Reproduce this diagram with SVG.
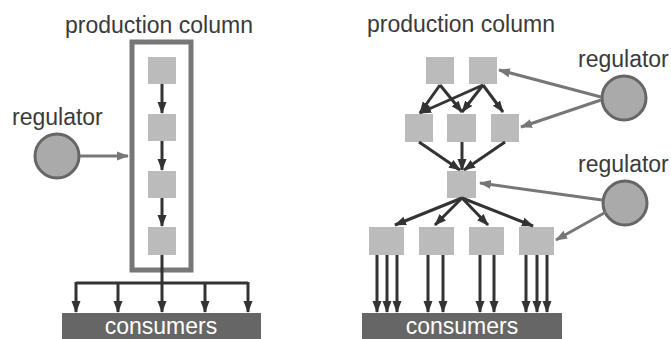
<svg xmlns="http://www.w3.org/2000/svg" width="671" height="339" viewBox="0 0 671 339">
<defs>
<style>
.lbl{font-family:"Liberation Sans",Arial,sans-serif;font-size:23px;fill:#3a3a3a}
.cons{font-family:"Liberation Sans",Arial,sans-serif;font-size:23px;fill:#fff}
.sq{fill:#bbb}
.reg{fill:#aaa;stroke:#666;stroke-width:3}
.blk{stroke:#333;stroke-width:3;fill:none;marker-end:url(#ab)}
.gry{stroke:#777;stroke-width:3;fill:none;marker-end:url(#ag)}
.ln{stroke:#333;stroke-width:3;fill:none}
</style>
<marker id="ab" markerUnits="userSpaceOnUse" markerWidth="12" markerHeight="12" viewBox="0 0 12 12" refX="11" refY="6" orient="auto"><path d="M0,1.5 L12,6 L0,10.5 Z" fill="#333"/></marker>
<marker id="ag" markerUnits="userSpaceOnUse" markerWidth="12" markerHeight="12" viewBox="0 0 12 12" refX="11" refY="6" orient="auto"><path d="M0,1.5 L12,6 L0,10.5 Z" fill="#777"/></marker>
</defs>
<rect width="671" height="339" fill="#fff"/>

<!-- Left diagram -->
<text class="lbl" x="65" y="33">production column</text>
<g id="column-left"><rect x="132" y="42" width="59" height="228" fill="none" stroke="#777" stroke-width="5"/></g>
<g id="L1"><rect class="sq" x="148" y="57" width="28" height="27"/></g>
<g id="L2"><rect class="sq" x="148" y="114" width="28" height="27"/></g>
<g id="L3"><rect class="sq" x="148" y="171" width="28" height="27"/></g>
<g id="L4"><rect class="sq" x="148" y="227" width="28" height="28"/></g>
<g id="regL"><text class="lbl" x="12" y="125">regulator</text><circle class="reg" cx="57" cy="156" r="22"/></g>
<g id="consL"><rect x="62" y="313" width="199" height="26" fill="#666"/><text class="cons" x="161" y="334" text-anchor="middle">consumers</text></g>

<!-- Right diagram -->
<text class="lbl" x="367" y="32">production column</text>
<g id="R1a"><rect class="sq" x="426" y="57" width="28" height="27"/></g>
<g id="R1b"><rect class="sq" x="469" y="57" width="28" height="27"/></g>
<g id="R2a"><rect class="sq" x="405" y="114" width="28" height="28"/></g>
<g id="R2b"><rect class="sq" x="447" y="114" width="29" height="28"/></g>
<g id="R2c"><rect class="sq" x="491" y="114" width="28" height="28"/></g>
<g id="R3"><rect class="sq" x="447" y="171" width="29" height="27"/></g>
<g id="R4a"><rect class="sq" x="369" y="227" width="35" height="28"/></g>
<g id="R4b"><rect class="sq" x="419" y="227" width="35" height="28"/></g>
<g id="R4c"><rect class="sq" x="469" y="227" width="35" height="28"/></g>
<g id="R4d"><rect class="sq" x="519" y="227" width="35" height="28"/></g>
<g id="regR1"><text class="lbl" x="578" y="67">regulator</text><circle class="reg" cx="624" cy="98" r="22"/></g>
<g id="regR2"><text class="lbl" x="578" y="172">regulator</text><circle class="reg" cx="625" cy="203" r="22"/></g>
<g id="consR"><rect x="362" y="313" width="200" height="26" fill="#666"/><text class="cons" x="462" y="334" text-anchor="middle">consumers</text></g>

<g id="connectors">
<line class="blk" x1="162" y1="84" x2="162" y2="113"/>
<line class="blk" x1="162" y1="141" x2="162" y2="170"/>
<line class="blk" x1="162" y1="198" x2="162" y2="226"/>
<line class="gry" x1="80" y1="156" x2="128" y2="156"/>
<line class="ln" x1="162" y1="255" x2="162" y2="283"/>
<line class="ln" x1="76" y1="283" x2="248" y2="283"/>
<line class="blk" x1="76" y1="282" x2="76" y2="312"/>
<line class="blk" x1="118" y1="283" x2="118" y2="312"/>
<line class="blk" x1="162" y1="283" x2="162" y2="312"/>
<line class="blk" x1="205" y1="283" x2="205" y2="312"/>
<line class="blk" x1="248" y1="282" x2="248" y2="312"/>

<line class="blk" x1="440" y1="85" x2="420" y2="113"/>
<line class="blk" x1="440" y1="85" x2="462" y2="112"/>
<line class="blk" x1="483" y1="85" x2="420" y2="113"/>
<line class="blk" x1="483" y1="85" x2="462" y2="112"/>
<line class="blk" x1="483" y1="85" x2="503" y2="112"/>
<line class="blk" x1="419" y1="142" x2="460" y2="170"/>
<line class="blk" x1="462" y1="142" x2="462" y2="170"/>
<line class="blk" x1="505" y1="142" x2="464" y2="170"/>
<line class="blk" x1="462" y1="198" x2="395" y2="225"/>
<line class="blk" x1="462" y1="198" x2="435" y2="225"/>
<line class="blk" x1="462" y1="198" x2="488" y2="225"/>
<line class="blk" x1="462" y1="198" x2="533" y2="226"/>
<line class="blk" x1="377" y1="255" x2="377" y2="312"/>
<line class="blk" x1="387" y1="255" x2="387" y2="312"/>
<line class="blk" x1="397" y1="255" x2="397" y2="312"/>
<line class="blk" x1="428" y1="255" x2="428" y2="312"/>
<line class="blk" x1="443" y1="255" x2="443" y2="312"/>
<line class="blk" x1="480" y1="255" x2="480" y2="312"/>
<line class="blk" x1="494" y1="255" x2="494" y2="312"/>
<line class="blk" x1="526" y1="255" x2="526" y2="312"/>
<line class="blk" x1="537" y1="255" x2="537" y2="312"/>
<line class="blk" x1="547" y1="255" x2="547" y2="312"/>
<line class="gry" x1="601" y1="97" x2="499" y2="70"/>
<line class="gry" x1="601" y1="100" x2="521" y2="127"/>
<line class="gry" x1="602" y1="200" x2="480" y2="183"/>
<line class="gry" x1="606" y1="212" x2="556" y2="240"/>
</g>
</svg>
